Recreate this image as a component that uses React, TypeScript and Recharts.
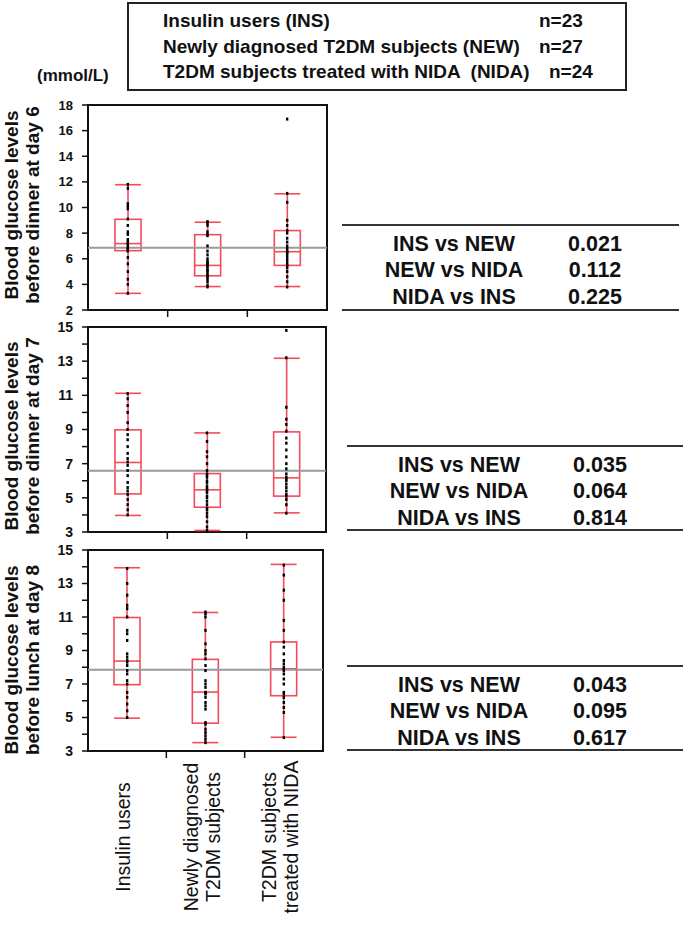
import React from 'react';
import { ComposedChart, Bar, Scatter, XAxis, YAxis, ReferenceLine, ReferenceArea } from 'recharts';

const FONT = '"Liberation Sans", Arial, Helvetica, sans-serif';
const RED = '#f44b5c';

const groups = ['INS', 'NEW', 'NIDA'];
const categoryLabels = [['Insulin users'], ['Newly diagnosed', 'T2DM subjects'], ['T2DM subjects', 'treated with NIDA']];

const legendNames = ['Insulin users (INS)', 'Newly diagnosed T2DM subjects (NEW)', 'T2DM subjects treated with NIDA  (NIDA)'];
const legendCounts = ['n=23', 'n=27', 'n=24'];

const comparisons = ['INS vs NEW', 'NEW vs NIDA', 'NIDA vs INS'];
const pDay6 = ['0.021', '0.112', '0.225'];
const pDay7 = ['0.035', '0.064', '0.814'];
const pDay8 = ['0.043', '0.095', '0.617'];

// [min, q1, median, q3, max] per group
const statsDay6 = [[3.3, 6.63, 7.18, 9.08, 11.78], [3.83, 4.67, 5.48, 7.88, 8.85], [3.83, 5.48, 6.55, 8.2, 11.07]];
const statsDay7 = [[3.97, 5.23, 7.07, 8.98, 11.12], [3.09, 4.45, 5.47, 6.42, 8.8], [4.12, 5.1, 6.17, 8.86, 13.17]];
const statsDay8 = [[4.96, 6.96, 8.37, 10.97, 13.94], [3.5, 4.66, 6.52, 8.47, 11.27], [3.82, 6.3, 7.91, 9.51, 14.14]];

// individual subjects
const dotsDay6 = [
  [3.3, 4.0, 4.4, 5.0, 5.6, 6.1, 6.6, 6.7, 6.8, 6.9, 7.1, 7.2, 7.3, 7.5, 7.9, 8.1, 8.6, 9.1, 9.9, 10.1, 10.3, 11.5, 11.8],
  [3.8, 3.9, 4.2, 4.4, 4.6, 4.7, 4.7, 4.8, 5.0, 5.1, 5.2, 5.4, 5.5, 5.5, 5.6, 5.7, 5.8, 6.0, 6.3, 6.6, 7.0, 7.8, 7.9, 8.1, 8.6, 8.8, 8.9],
  [3.8, 4.2, 4.6, 5.0, 5.3, 5.5, 5.6, 5.8, 6.0, 6.2, 6.4, 6.5, 6.6, 6.8, 7.0, 7.3, 7.6, 8.0, 8.2, 8.6, 9.0, 10.4, 11.1, 16.9],
];
const dotsDay7 = [
  [4.0, 4.3, 4.6, 4.9, 5.2, 5.4, 5.6, 5.9, 6.3, 6.6, 6.9, 7.1, 7.3, 7.6, 8.0, 8.4, 8.7, 9.0, 9.4, 10.0, 10.4, 10.8, 11.1],
  [3.1, 3.3, 3.6, 3.9, 4.1, 4.3, 4.4, 4.6, 4.8, 5.0, 5.1, 5.3, 5.4, 5.5, 5.6, 5.7, 5.9, 6.0, 6.2, 6.3, 6.4, 6.6, 7.0, 7.4, 7.7, 8.3, 8.8],
  [4.1, 4.6, 4.9, 5.1, 5.2, 5.4, 5.6, 5.8, 6.0, 6.1, 6.2, 6.4, 6.7, 7.0, 7.4, 7.8, 8.2, 8.5, 8.9, 9.3, 9.6, 10.3, 13.2, 14.8],
];
const dotsDay8 = [
  [5.0, 5.4, 5.8, 6.2, 6.5, 7.0, 7.2, 7.6, 7.8, 8.1, 8.3, 8.4, 8.6, 8.8, 9.6, 10.0, 10.2, 11.0, 11.5, 11.7, 12.3, 13.0, 13.9],
  [3.5, 3.7, 3.9, 4.1, 4.3, 4.6, 4.7, 5.5, 5.7, 5.9, 6.2, 6.4, 6.5, 6.5, 6.8, 7.0, 7.2, 7.8, 8.1, 8.5, 8.8, 9.0, 9.4, 10.2, 11.0, 11.2, 11.3],
  [3.8, 5.3, 5.6, 5.9, 6.2, 6.4, 6.5, 7.0, 7.3, 7.6, 7.8, 7.9, 8.0, 8.2, 8.4, 8.8, 9.2, 9.5, 10.2, 10.8, 12.0, 12.6, 13.5, 14.1],
];

const refDay6 = 6.86;
const refDay7 = 6.58;
const refDay8 = 7.85;

const ticksDay6 = [2, 4, 6, 8, 10, 12, 14, 16, 18];
const ticksDay78 = [3, 4, 5, 6, 7, 8, 9, 10, 11, 12, 13, 14, 15];

const BoxShape = (props: any) => {
  const { x, y, width, height, payload } = props;
  const { min, q1, med, q3, max } = payload;
  const top = Math.min(y, y + height);
  const h = Math.abs(height);
  const py = (v: number) => top + ((max - v) / (max - min)) * h;
  const cx = x + width / 2;
  return (
    <g stroke={RED} strokeWidth={1.6} fill="none">
      <line x1={x} x2={x + width} y1={py(max)} y2={py(max)} />
      <line x1={x} x2={x + width} y1={py(min)} y2={py(min)} />
      <line x1={cx} x2={cx} y1={py(max)} y2={py(q3)} />
      <line x1={cx} x2={cx} y1={py(q1)} y2={py(min)} />
      <rect x={x} y={py(q3)} width={width} height={py(q1) - py(q3)} />
      <line x1={x} x2={x + width} y1={py(med)} y2={py(med)} />
    </g>
  );
};

const DotShape = (props: any) => (
  <rect x={props.cx - 1.2} y={props.cy - 1.5} width={2.4} height={3} fill="#000" />
);

// integer ticks = separators between groups, half ticks = group labels
const GroupTick = (props: any) => {
  const { x, y, payload, showLabels } = props;
  const v = payload.value;
  if (Number.isInteger(v)) {
    return <line x1={x} x2={x} y1={y} y2={y + 7} stroke="#111" strokeWidth={1.5} />;
  }
  if (!showLabels) return null;
  const lines = categoryLabels[Math.floor(v)];
  const cy = y + 86;
  return (
    <text transform={`rotate(-90, ${x}, ${cy})`} textAnchor="middle" fontSize={19.5} fill="#111" fontFamily={FONT}>
      {lines.map((l, i) => (
        <tspan key={i} x={x} y={cy + (i - (lines.length - 1) / 2) * 22 - 4} dominantBaseline="central">{l}</tspan>
      ))}
    </text>
  );
};

function Panel({ cfg }: any) {
  const data = groups.map((g, i) => {
    const [min, q1, med, q3, max] = cfg.stats[i];
    return { name: g, x: i + 0.5, range: [min, max], min, q1, med, q3, max };
  });
  const dots = groups.flatMap((g, i) => cfg.dots[i].map((v: number) => ({ name: g, x: i + 0.5, v })));
  return (
    <div style={{ position: 'absolute', left: 0, top: cfg.top }}>
      <ComposedChart width={340} height={cfg.height} data={data} margin={{ top: 10, right: cfg.right, bottom: 0, left: 0 }}>
        <XAxis
          dataKey="x"
          type="number"
          domain={[0, 3]}
          allowDataOverflow
          ticks={cfg.showLabels ? [0.5, 1, 1.5, 2, 2.5] : [1, 2]}
          interval={0}
          height={cfg.axisHeight}
          axisLine={false}
          tickLine={false}
          tickSize={0}
          tickMargin={0}
          tick={<GroupTick showLabels={cfg.showLabels} />}
        />
        <YAxis
          type="number"
          domain={cfg.domain}
          allowDataOverflow
          ticks={cfg.ticks}
          interval={0}
          width={88}
          tickSize={6}
          tickMargin={9}
          axisLine={false}
          tickLine={{ stroke: '#111', strokeWidth: 1.5 }}
          tickFormatter={(v: number) => (cfg.oddOnly && v % 2 === 0 ? '' : String(v))}
          tick={{ fontSize: cfg.tickFont, fontWeight: 'bold', fill: '#111', fontFamily: FONT }}
        />
        <ReferenceLine y={cfg.ref} stroke="#9a9a9a" strokeWidth={2} />
        <Bar dataKey="range" barSize={26} shape={BoxShape} isAnimationActive={false} />
        <Scatter data={dots} dataKey="v" shape={DotShape} isAnimationActive={false} />
        <ReferenceArea x1={0} x2={3} y1={cfg.domain[0]} y2={cfg.domain[1]} fill="none" fillOpacity={0} stroke="#111" strokeWidth={2} />
      </ComposedChart>
    </div>
  );
}

function YTitle({ lines, cy }: any) {
  const L = 260;
  return (
    <div
      style={{
        position: 'absolute', left: 21.5 - L / 2, top: cy - 21, width: L, height: 42,
        transform: 'rotate(-90deg)', textAlign: 'center', fontSize: 19, fontWeight: 'bold',
        lineHeight: '21px', fontFamily: FONT, whiteSpace: 'nowrap', color: '#111',
      }}
    >
      {lines.map((l: string, i: number) => <div key={i}>{l}</div>)}
    </div>
  );
}

function PTable({ left, top, width, height, pvals }: any) {
  const rowY = [18, 44, 71];
  return (
    <div style={{ position: 'absolute', left, top, width, height, borderTop: '2px solid #333', borderBottom: '2px solid #333', fontFamily: FONT, fontWeight: 'bold', fontSize: 21.5, color: '#111' }}>
      {comparisons.map((c, i) => (
        <React.Fragment key={c}>
          <div style={{ position: 'absolute', left: 112 - 100, width: 200, top: rowY[i] - 13, lineHeight: '26px', textAlign: 'center' }}>{c}</div>
          <div style={{ position: 'absolute', left: 253 - 50, width: 100, top: rowY[i] - 13, lineHeight: '26px', textAlign: 'center' }}>{pvals[i]}</div>
        </React.Fragment>
      ))}
    </div>
  );
}

const panels = [
  { top: 95, height: 240, right: 13, axisHeight: 25, stats: statsDay6, dots: dotsDay6, ref: refDay6, domain: [2, 18], ticks: ticksDay6, oddOnly: false, tickFont: 13, showLabels: false },
  { top: 317, height: 240, right: 14, axisHeight: 25, stats: statsDay7, dots: dotsDay7, ref: refDay7, domain: [3, 15], ticks: ticksDay78, oddOnly: true, tickFont: 14, showLabels: false },
  { top: 540, height: 386, right: 17, axisHeight: 175, stats: statsDay8, dots: dotsDay8, ref: refDay8, domain: [3, 15], ticks: ticksDay78, oddOnly: true, tickFont: 14, showLabels: true },
];

const countLeft = [410, 410, 420];

export default function App() {
  return (
    <div style={{ position: 'absolute', left: 0, top: 0, width: 685, height: 926, background: '#fff', fontFamily: FONT }}>
      {/* legend box */}
      <div style={{ position: 'absolute', left: 127, top: 2, width: 496, height: 85, border: '2px solid #222', fontSize: 19, fontWeight: 'bold', color: '#111' }}>
        {legendNames.map((n, i) => (
          <React.Fragment key={n}>
            <div style={{ position: 'absolute', left: 34, top: 19 + i * 25.5 - 14, lineHeight: '24px', whiteSpace: 'pre' }}>{n}</div>
            <div style={{ position: 'absolute', left: countLeft[i], top: 19 + i * 25.5 - 14, lineHeight: '24px' }}>{legendCounts[i]}</div>
          </React.Fragment>
        ))}
      </div>
      <div style={{ position: 'absolute', left: 37, top: 64, fontSize: 17, fontWeight: 'bold', color: '#111', lineHeight: '24px' }}>(mmol/L)</div>

      {panels.map((p, i) => <Panel key={i} cfg={p} />)}

      <YTitle lines={['Blood glucose levels', 'before dinner at day 6']} cy={205} />
      <YTitle lines={['Blood glucose levels', 'before dinner at day 7']} cy={436} />
      <YTitle lines={['Blood glucose levels', 'before lunch at day 8']} cy={660} />

      <PTable left={342} top={224} width={337} height={83} pvals={pDay6} />
      <PTable left={347} top={445} width={336} height={82} pvals={pDay7} />
      <PTable left={347} top={665} width={336} height={82} pvals={pDay8} />
    </div>
  );
}
